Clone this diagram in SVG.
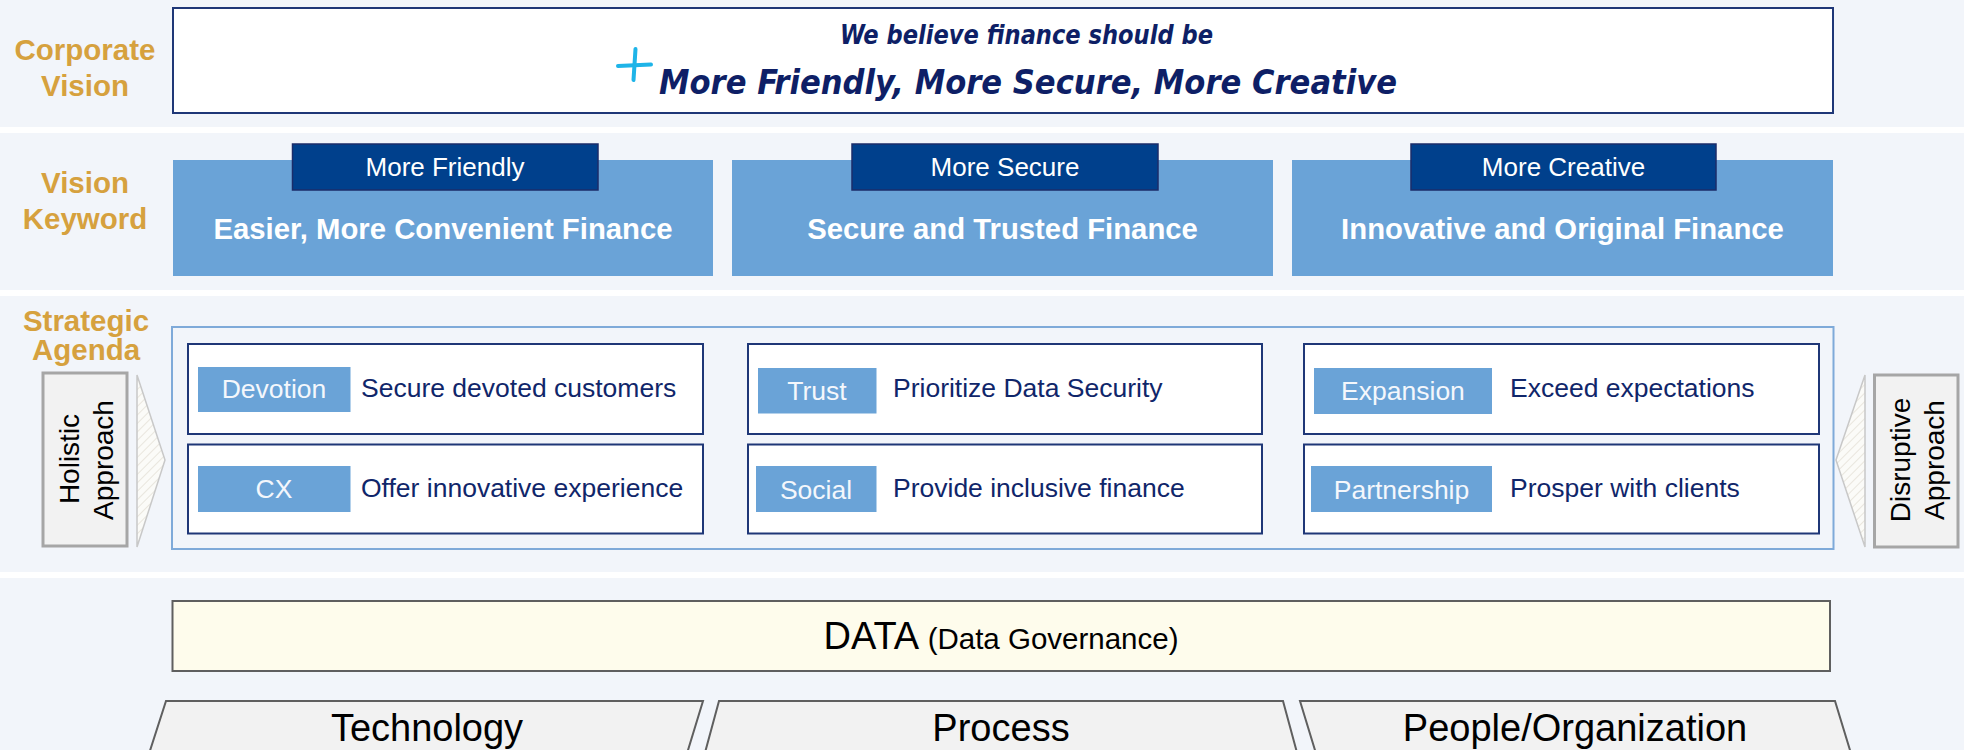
<svg xmlns="http://www.w3.org/2000/svg" width="1964" height="750" viewBox="0 0 1964 750">
  <defs>
    <style>
      .band { fill: #F2F5FA; }
      .lbl { font-family: "Liberation Sans", Arial, sans-serif; font-weight: bold; font-size: 29.5px; fill: #D6A13E; text-anchor: middle; }
      .hand { font-family: "DejaVu Sans Condensed", "DejaVu Sans", sans-serif; font-weight: bold; font-style: italic; fill: #0E1F66; }
      .kwbox { fill: #6AA3D7; }
      .kwhead { fill: #00408C; stroke: #1B2C6A; stroke-width: 1.5; }
      .kwhtxt { font-family: "Liberation Sans", Arial, sans-serif; font-size: 26px; fill: #FFFFFF; text-anchor: middle; }
      .kwtxt { font-family: "Liberation Sans", Arial, sans-serif; font-weight: bold; font-size: 29.3px; fill: #FFFFFF; text-anchor: middle; }
      .row { fill: #FFFFFF; stroke: #1F3777; stroke-width: 2; }
      .tag { fill: #6AA3D7; }
      .tagtxt { font-family: "Liberation Sans", Arial, sans-serif; font-size: 26.5px; fill: #F4F7FC; text-anchor: middle; }
      .rowtxt { font-family: "Liberation Sans", Arial, sans-serif; font-size: 26.5px; fill: #10266A; }
      .side { fill: #F2F2F2; stroke: #A6A6A6; stroke-width: 3; }
      .sidetxt { font-family: "Liberation Sans", Arial, sans-serif; font-size: 28px; fill: #000000; text-anchor: middle; }
      .chev { fill: url(#hatch); stroke: #C8C8C8; stroke-width: 1.5; }
      .pillar { fill: #F2F2F2; stroke: #5F5F5F; stroke-width: 2; }
      .pillartxt { font-family: "Liberation Sans", Arial, sans-serif; font-size: 38px; fill: #000000; text-anchor: middle; }
    </style>
    <pattern id="hatch" width="6" height="6" patternUnits="userSpaceOnUse" patternTransform="rotate(45)">
      <rect width="6" height="6" fill="#FBFBF8"/>
      <line x1="0" y1="0" x2="0" y2="6" stroke="#E3E0D6" stroke-width="1.5"/>
    </pattern>
  </defs>

  <!-- page bands with white separators -->
  <rect x="0" y="0" width="1964" height="750" fill="#FFFFFF"/>
  <rect class="band" x="0" y="0" width="1964" height="127"/>
  <rect class="band" x="0" y="133" width="1964" height="157"/>
  <rect class="band" x="0" y="296" width="1964" height="276"/>
  <rect class="band" x="0" y="578" width="1964" height="172"/>

  <!-- row labels -->
  <g id="row-labels">
    <text class="lbl" x="85" y="60">Corporate</text>
    <text class="lbl" x="85" y="96">Vision</text>
    <text class="lbl" x="85" y="193">Vision</text>
    <text class="lbl" x="85" y="229">Keyword</text>
    <text class="lbl" x="86" y="331">Strategic</text>
    <text class="lbl" x="86" y="360">Agenda</text>
  </g>

  <!-- corporate vision statement -->
  <g id="corporate-vision">
    <rect x="173" y="8" width="1660" height="105" fill="#FFFFFF" stroke="#1F3777" stroke-width="2"/>
    <line x1="618" y1="66" x2="651" y2="64.5" stroke="#1EB4E8" stroke-width="4" stroke-linecap="round"/>
    <line x1="635.5" y1="49" x2="633.5" y2="80" stroke="#1EB4E8" stroke-width="4" stroke-linecap="round"/>
    <text class="hand" x="840" y="44" font-size="26" textLength="373" lengthAdjust="spacingAndGlyphs">We believe finance should be</text>
    <text class="hand" x="659" y="94" font-size="34" textLength="738" lengthAdjust="spacingAndGlyphs">More Friendly, More Secure, More Creative</text>
  </g>

  <!-- vision keywords -->
  <g id="kw-friendly">
    <rect class="kwbox" x="173" y="160" width="540" height="116"/>
    <rect class="kwhead" x="292.5" y="144" width="305.5" height="46"/>
    <text class="kwhtxt" x="445" y="176">More Friendly</text>
    <text class="kwtxt" x="443" y="239">Easier, More Convenient Finance</text>
  </g>
  <g id="kw-secure">
    <rect class="kwbox" x="732" y="160" width="541" height="116"/>
    <rect class="kwhead" x="852" y="144" width="306" height="46"/>
    <text class="kwhtxt" x="1005" y="176">More Secure</text>
    <text class="kwtxt" x="1002.5" y="239">Secure and Trusted Finance</text>
  </g>
  <g id="kw-creative">
    <rect class="kwbox" x="1292" y="160" width="541" height="116"/>
    <rect class="kwhead" x="1411" y="144" width="305" height="46"/>
    <text class="kwhtxt" x="1563.5" y="176">More Creative</text>
    <text class="kwtxt" x="1562.5" y="239">Innovative and Original Finance</text>
  </g>

  <!-- strategic agenda frame -->
  <g id="agenda-frame">
    <rect x="172" y="327" width="1661.5" height="222" fill="none" stroke="#7FAAD9" stroke-width="2"/>
  </g>

  <g id="agenda-devotion">
    <rect class="row" x="188" y="344" width="515" height="90"/>
    <rect class="tag" x="198" y="367" width="152.5" height="45"/>
    <text class="tagtxt" x="274" y="398">Devotion</text>
    <text class="rowtxt" x="361" y="397">Secure devoted customers</text>
  </g>
  <g id="agenda-cx">
    <rect class="row" x="188" y="444.5" width="515" height="89"/>
    <rect class="tag" x="198" y="466" width="152.5" height="46"/>
    <text class="tagtxt" x="274" y="498">CX</text>
    <text class="rowtxt" x="361" y="497">Offer innovative experience</text>
  </g>
  <g id="agenda-trust">
    <rect class="row" x="748" y="344" width="514" height="90"/>
    <rect class="tag" x="758" y="368" width="118.5" height="45.5"/>
    <text class="tagtxt" x="817" y="400">Trust</text>
    <text class="rowtxt" x="893" y="397">Prioritize Data Security</text>
  </g>
  <g id="agenda-social">
    <rect class="row" x="748" y="444.5" width="514" height="89"/>
    <rect class="tag" x="756" y="466" width="120.5" height="46"/>
    <text class="tagtxt" x="816" y="499">Social</text>
    <text class="rowtxt" x="893" y="497">Provide inclusive finance</text>
  </g>
  <g id="agenda-expansion">
    <rect class="row" x="1304" y="344" width="515" height="90"/>
    <rect class="tag" x="1314" y="368" width="178" height="46"/>
    <text class="tagtxt" x="1403" y="400">Expansion</text>
    <text class="rowtxt" x="1510" y="397">Exceed expectations</text>
  </g>
  <g id="agenda-partnership">
    <rect class="row" x="1304" y="444.5" width="515" height="89"/>
    <rect class="tag" x="1311" y="466" width="181" height="46"/>
    <text class="tagtxt" x="1401.5" y="499">Partnership</text>
    <text class="rowtxt" x="1510" y="497">Prosper with clients</text>
  </g>

  <!-- side approaches -->
  <g id="holistic-approach">
    <rect class="side" x="43" y="373" width="84" height="173"/>
    <text class="sidetxt" transform="translate(79,459) rotate(-90)">Holistic</text>
    <text class="sidetxt" transform="translate(113,460) rotate(-90)">Approach</text>
  </g>
  <g id="disruptive-approach">
    <rect class="side" x="1874.5" y="375" width="83.5" height="172"/>
    <text class="sidetxt" transform="translate(1910,460) rotate(-90)">Disruptive</text>
    <text class="sidetxt" transform="translate(1944,460) rotate(-90)">Approach</text>
  </g>

  <!-- chevrons pointing into the agenda -->
  <g id="connectors">
    <polygon class="chev" points="137,375 165,460 137,547"/>
    <polygon class="chev" points="1865,375 1836,460 1865,547"/>
  </g>

  <!-- data foundation -->
  <g id="data">
    <rect x="172.5" y="601" width="1657.5" height="70" fill="#FEFCEC" stroke="#5F5F5F" stroke-width="2"/>
    <text x="1001" y="649" text-anchor="middle" font-family="'Liberation Sans', Arial, sans-serif" fill="#000000"><tspan font-size="38">DATA </tspan><tspan font-size="29.5">(Data Governance)</tspan></text>
  </g>

  <!-- pillars -->
  <g id="pillar-technology">
    <polygon class="pillar" points="166,701 703,701 685,760 147,760"/>
    <text class="pillartxt" x="427" y="741">Technology</text>
  </g>
  <g id="pillar-process">
    <polygon class="pillar" points="719,701 1283,701 1299,760 703,760"/>
    <text class="pillartxt" x="1001" y="741">Process</text>
  </g>
  <g id="pillar-people">
    <polygon class="pillar" points="1300,701 1835,701 1853,760 1318,760"/>
    <text class="pillartxt" x="1575" y="741">People/Organization</text>
  </g>
</svg>
